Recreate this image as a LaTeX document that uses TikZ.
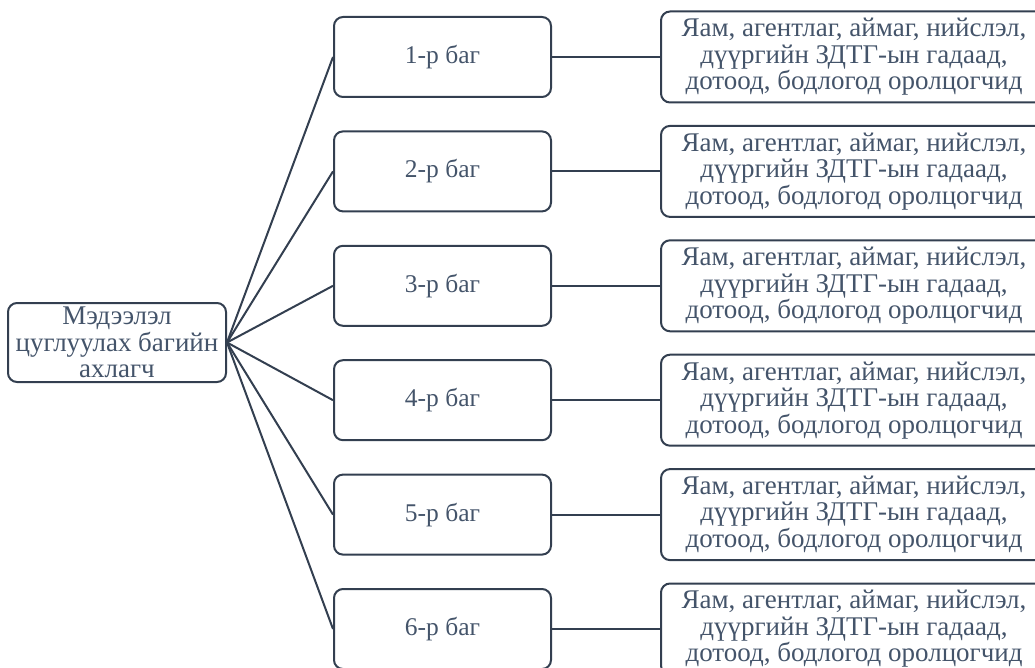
\documentclass[tikz,border=0pt]{standalone}
\usepackage{fontspec}
\setmainfont{Liberation Serif}
\definecolor{edge}{HTML}{333F50}
\definecolor{txt}{HTML}{44546A}
\begin{document}
\begin{tikzpicture}[x=1pt,y=-1pt,
  box/.style={draw=edge, line width=2pt, rounded corners=9pt, text=txt,
    font=\fontsize{27}{26.5}\selectfont, align=center, inner sep=0pt},
  link/.style={draw=edge, line width=2pt}]
\useasboundingbox (0,0) rectangle (1035,668);
\clip (0,0) rectangle (1035,668);
\node[box, minimum width=218pt, minimum height=79pt] (lead) at (117,342.5)
  {Мэдээлэл\\цуглуулах багийн\\ахлагч};
\foreach \i in {1,...,6}{
  \pgfmathsetmacro{\yy}{57+114.4*(\i-1)}
  \node[box, minimum width=217pt, minimum height=80pt,
    font=\fontsize{25.5}{26.5}\selectfont] (m\i) at (442.5,\yy) {\i-р баг};
  \node[box, minimum width=386pt, minimum height=91pt] (r\i) at (854,\yy)
    {Яам, агентлаг, аймаг, нийслэл,\\дүүргийн ЗДТГ-ын гадаад,\\дотоод, бодлогод оролцогчид};
  \draw[link] (lead.east) -- (m\i.west);
  \draw[link] (m\i.east) -- (r\i.west);
}
\end{tikzpicture}
\end{document}
